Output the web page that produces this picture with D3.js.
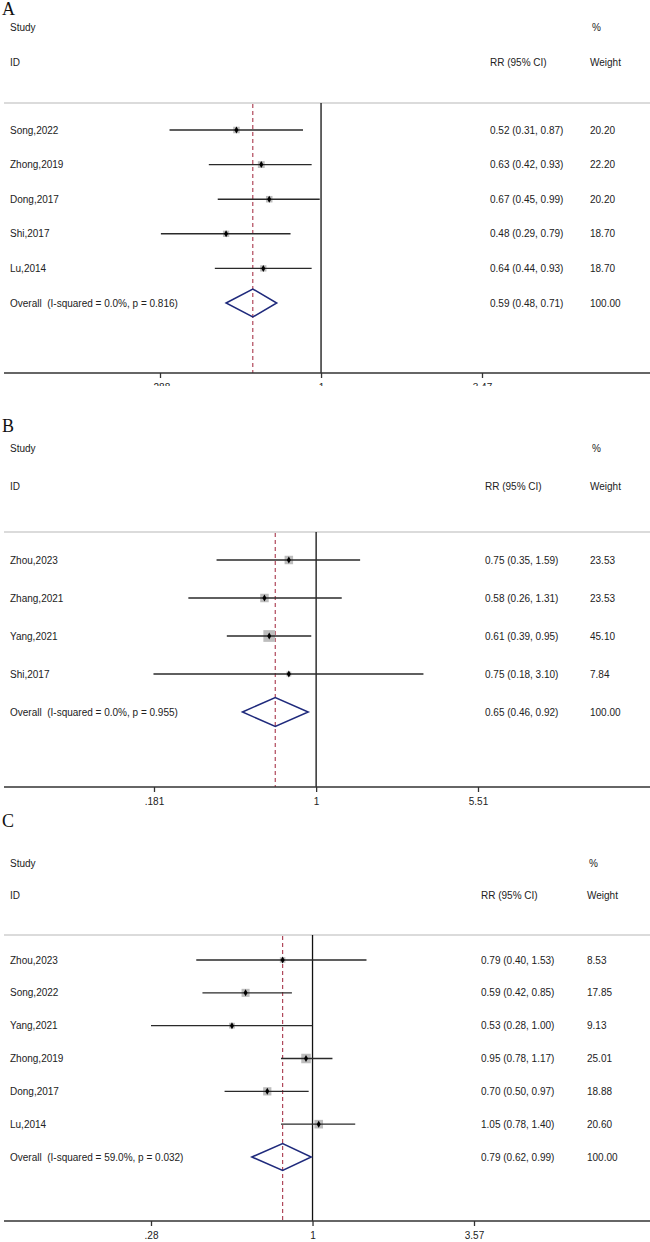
<!DOCTYPE html>
<html>
<head>
<meta charset="utf-8">
<script src="https://cdn.jsdelivr.net/npm/d3@7"></script>
<style>
  body { margin: 0; background: #fff; }
  text { font-family: "Liberation Sans", Arial, sans-serif; font-size: 10px; fill: #222; white-space: pre; }
  .tag { font-family: "Liberation Serif", "Times New Roman", serif; font-size: 18px; fill: #111; }
</style>
</head>
<body>
<div id="chart"></div>
<script>
/** Panel A data **/
const studiesA = ['Song,2022', 'Zhong,2019', 'Dong,2017', 'Shi,2017', 'Lu,2014'];
const rrA = [0.52, 0.63, 0.67, 0.48, 0.64];
const lowA = [0.31, 0.42, 0.45, 0.29, 0.44];
const highA = [0.87, 0.93, 0.99, 0.79, 0.93];
const weightA = [20.2, 22.2, 20.2, 18.7, 18.7];
const overallA = [0.59, 0.48, 0.71];
const hetA = 'Overall  (I-squared = 0.0%, p = 0.816)';
const ticksA = [0.288, 1, 3.47];
const tickLabelsA = ['.288', '1', '3.47'];

/** Panel B data **/
const studiesB = ['Zhou,2023', 'Zhang,2021', 'Yang,2021', 'Shi,2017'];
const rrB = [0.75, 0.58, 0.61, 0.75];
const lowB = [0.35, 0.26, 0.39, 0.18];
const highB = [1.59, 1.31, 0.95, 3.10];
const weightB = [23.53, 23.53, 45.10, 7.84];
const overallB = [0.65, 0.46, 0.92];
const hetB = 'Overall  (I-squared = 0.0%, p = 0.955)';
const ticksB = [0.181, 1, 5.51];
const tickLabelsB = ['.181', '1', '5.51'];

/** Panel C data **/
const studiesC = ['Zhou,2023', 'Song,2022', 'Yang,2021', 'Zhong,2019', 'Dong,2017', 'Lu,2014'];
const rrC = [0.79, 0.59, 0.53, 0.95, 0.70, 1.05];
const lowC = [0.40, 0.42, 0.28, 0.78, 0.50, 0.78];
const highC = [1.53, 0.85, 1.00, 1.17, 0.97, 1.40];
const weightC = [8.53, 17.85, 9.13, 25.01, 18.88, 20.60];
const overallC = [0.79, 0.62, 0.99];
const hetC = 'Overall  (I-squared = 59.0%, p = 0.032)';
const ticksC = [0.28, 1, 3.57];
const tickLabelsC = ['.28', '1', '3.57'];

/** Layout of each panel (positions only) **/
const panels = [
  { tag: 'A', studies: studiesA, rr: rrA, low: lowA, high: highA, weight: weightA,
    overall: overallA, het: hetA, ticks: ticksA, tickLabels: tickLabelsA,
    tagY: 15, studyY: 27, idY: 62, sepY: 103, rowTop: 130, rowBottom: 303, axisY: 373,
    xRange: [160, 482], rrX: 490, wX: 590, boxK: 1.45, dH: 14, clipY: 386 },
  { tag: 'B', studies: studiesB, rr: rrB, low: lowB, high: highB, weight: weightB,
    overall: overallB, het: hetB, ticks: ticksB, tickLabels: tickLabelsB,
    tagY: 432, studyY: 448, idY: 486, sepY: 532, rowTop: 560, rowBottom: 712, axisY: 787,
    xRange: [154, 478], rrX: 485, wX: 590, boxK: 1.75, dH: 14.5 },
  { tag: 'C', studies: studiesC, rr: rrC, low: lowC, high: highC, weight: weightC,
    overall: overallC, het: hetC, ticks: ticksC, tickLabels: tickLabelsC,
    tagY: 827, studyY: 863, idY: 895, sepY: 935, rowTop: 960, rowBottom: 1157, axisY: 1221,
    xRange: [151, 474], rrX: 481, wX: 587, boxK: 1.9, dH: 13.5 }
];

const width = 650;
const height = 1242;
const f2 = d3.format('.2f');

const svg = d3.select('#chart')
  .append('svg')
  .attr('width', width)
  .attr('height', height);

panels.forEach((p, pi) => {
  const g = svg.append('g');

  // panel A's tick labels are cut off in the original
  if (p.clipY) {
    svg.append('clipPath').attr('id', 'clip' + pi)
      .append('rect').attr('x', 0).attr('y', 0).attr('width', width).attr('height', p.clipY);
    g.attr('clip-path', `url(#clip${pi})`);
  }

  const x = d3.scaleLog().domain([p.ticks[0], p.ticks[2]]).range(p.xRange);
  const y = d3.scalePoint()
    .domain([...p.studies, 'Overall'])
    .range([p.rowTop, p.rowBottom]);

  const rows = p.studies.map((s, i) => ({
    study: s, rr: p.rr[i], low: p.low[i], high: p.high[i], weight: p.weight[i]
  }));

  /** headers **/
  g.append('text').attr('class', 'tag').attr('x', 2).attr('y', p.tagY).text(p.tag);
  g.append('text').attr('x', 10).attr('y', p.studyY).attr('dy', '0.35em').text('Study');
  g.append('text').attr('x', 10).attr('y', p.idY).attr('dy', '0.35em').text('ID');
  g.append('text').attr('x', p.rrX).attr('y', p.idY).attr('dy', '0.35em').text('RR (95% CI)');
  g.append('text').attr('x', p.wX + 2).attr('y', p.studyY).attr('dy', '0.35em').text('%');
  g.append('text').attr('x', p.wX).attr('y', p.idY).attr('dy', '0.35em').text('Weight');

  /** separator and reference lines **/
  g.append('line')
    .attr('x1', 4).attr('x2', width).attr('y1', p.sepY).attr('y2', p.sepY)
    .attr('stroke', '#cfcfcf').attr('stroke-width', 1.5);

  g.append('line')
    .attr('x1', x(1)).attr('x2', x(1)).attr('y1', p.sepY).attr('y2', p.axisY)
    .attr('stroke', '#111').attr('stroke-width', 1.3);

  g.append('line')
    .attr('x1', x(p.overall[0])).attr('x2', x(p.overall[0]))
    .attr('y1', p.sepY + 1).attr('y2', p.axisY)
    .attr('stroke', '#b0475a').attr('stroke-width', 1.2)
    .attr('stroke-dasharray', '4,3');

  /** study rows **/
  const row = g.selectAll('g.row').data(rows).join('g').attr('class', 'row');

  row.append('rect')
    .attr('x', (d) => x(d.rr) - (p.boxK * Math.sqrt(d.weight)) / 2)
    .attr('y', (d) => y(d.study) - (p.boxK * Math.sqrt(d.weight)) / 2)
    .attr('width', (d) => p.boxK * Math.sqrt(d.weight))
    .attr('height', (d) => p.boxK * Math.sqrt(d.weight))
    .attr('fill', '#bdbdbd');

  row.append('line')
    .attr('x1', (d) => x(d.low)).attr('x2', (d) => x(d.high))
    .attr('y1', (d) => y(d.study)).attr('y2', (d) => y(d.study))
    .attr('stroke', '#2a2a2a').attr('stroke-width', 1.4);

  row.append('path')
    .attr('transform', (d) => `translate(${x(d.rr)},${y(d.study)})`)
    .attr('d', d3.symbol(d3.symbolDiamond, 14))
    .attr('fill', '#000');

  row.append('text')
    .attr('x', 10).attr('y', (d) => y(d.study)).attr('dy', '0.35em')
    .text((d) => d.study);
  row.append('text')
    .attr('x', p.rrX).attr('y', (d) => y(d.study)).attr('dy', '0.35em')
    .text((d) => `${f2(d.rr)} (${f2(d.low)}, ${f2(d.high)})`);
  row.append('text')
    .attr('x', p.wX).attr('y', (d) => y(d.study)).attr('dy', '0.35em')
    .text((d) => f2(d.weight));

  /** overall diamond **/
  const oy = y('Overall');
  const [orr, olo, ohi] = p.overall;
  g.append('path')
    .attr('d', `M${x(olo)},${oy}L${x(orr)},${oy - p.dH}L${x(ohi)},${oy}L${x(orr)},${oy + p.dH}Z`)
    .attr('fill', 'none').attr('stroke', '#1f2a7c').attr('stroke-width', 1.5);
  g.append('text').attr('x', 10).attr('y', oy).attr('dy', '0.35em').text(p.het);
  g.append('text').attr('x', p.rrX).attr('y', oy).attr('dy', '0.35em')
    .text(`${f2(orr)} (${f2(olo)}, ${f2(ohi)})`);
  g.append('text').attr('x', p.wX).attr('y', oy).attr('dy', '0.35em').text(f2(100));

  /** x axis **/
  g.append('line')
    .attr('x1', 4).attr('x2', width).attr('y1', p.axisY).attr('y2', p.axisY)
    .attr('stroke', '#333').attr('stroke-width', 1.5);

  const axis = g.append('g')
    .attr('transform', `translate(0,${p.axisY})`)
    .call(
      d3.axisBottom(x)
        .tickValues(p.ticks)
        .tickFormat((d, i) => p.tickLabels[i])
        .tickSize(5)
        .tickPadding(6)
    );
  axis.select('.domain').remove();
  axis.selectAll('line').attr('stroke', '#333').attr('stroke-width', 1.3);
  axis.selectAll('text')
    .attr('font-family', '"Liberation Sans", Arial, sans-serif')
    .attr('font-size', 10).attr('fill', '#222');
});
</script>
</body>
</html>
